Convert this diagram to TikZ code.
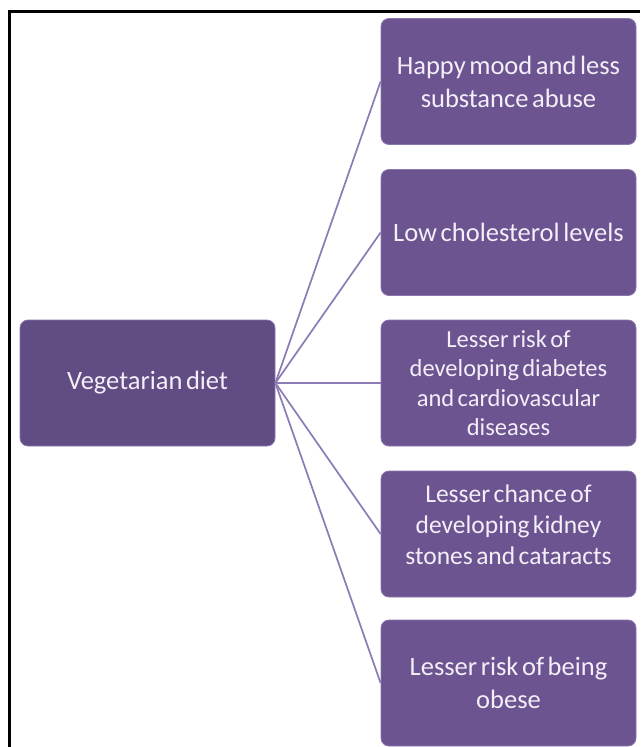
\documentclass[tikz,border=0pt]{standalone}
\usepackage{fontspec}
\setmainfont[WordSpace=0.6]{Carlito}
\definecolor{boxfill}{HTML}{6C5491}
\definecolor{leftfill}{HTML}{614C84}
\definecolor{boxedge}{HTML}{8A76AE}
\definecolor{linkcol}{HTML}{8C7BB4}
\definecolor{txtcol}{HTML}{F3EEF8}
\begin{document}
\begin{tikzpicture}[x=1pt,y=-1pt,
  vbox/.style={rectangle, rounded corners=8pt, fill=boxfill, draw=boxedge, line width=0.8pt,
    minimum width=255pt, minimum height=126pt, inner sep=0pt, align=center,
    text=txtcol, font=\fontsize{26.5}{33}\selectfont},
  link/.style={draw=linkcol, line width=1.7pt}]
\useasboundingbox (0,0) rectangle (640,747);
\fill[white] (0,0) rectangle (640,747);
\draw[black, line width=3pt] (9,747) -- (9,11) -- (640,11);
\node[vbox, fill=leftfill] (veg) at (147.5,383) {Vegetarian diet};
\node[vbox] (b1) at (508.5,81.5) {Happy mood and less\\substance abuse};
\node[vbox] (b2) at (508.5,232.5) {Low cholesterol levels};
\node[vbox, font=\fontsize{24.5}{29.5}\selectfont] (b3) at (508.5,383) {Lesser risk of\\developing diabetes\\and cardiovascular\\diseases};
\node[vbox, font=\fontsize{25.5}{31}\selectfont] (b4) at (508.5,534) {Lesser chance of\\developing kidney\\stones and cataracts\\[-12pt]\mbox{}};
\node[vbox] (b5) at (508.5,683) {Lesser risk of being\\obese};
\foreach \t in {b1,b2,b3,b4,b5}
  \draw[link] (veg.east) -- (\t.west);
\end{tikzpicture}
\end{document}
